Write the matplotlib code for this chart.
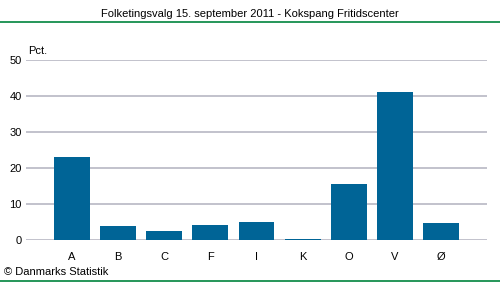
import matplotlib.pyplot as plt

partier = ['A', 'B', 'C', 'F', 'I', 'K', 'O', 'V', 'Ø']
pct = [23.1, 3.9, 2.5, 4.2, 5.0, 0.3, 15.6, 41.1, 4.7]
yticks = [0, 10, 20, 30, 40, 50]

plt.rcParams['font.family'] = ['Liberation Sans', 'DejaVu Sans']

fig = plt.figure(figsize=(5, 2.82), dpi=100)
ax = fig.add_axes([26 / 500, 42 / 282, 461 / 500, 180 / 282])

x = range(len(partier))
ax.bar(x, pct, width=0.78, color='#006496', zorder=3)
ax.set_xlim(-1, 9)
ax.set_ylim(0, 50)
ax.set_yticks(yticks)
ax.set_xticks(list(x))
ax.set_xticklabels(partier)
ax.grid(axis='y', color='#b8b8c4', linewidth=1.2, zorder=0)
ax.tick_params(length=0, labelsize=8, colors='#000000')
ax.tick_params(axis='x', pad=9)
ax.tick_params(axis='y', pad=3)
for s in ax.spines.values():
    s.set_visible(False)

ax.text(0.005, 1.02, 'Pct.', transform=ax.transAxes, fontsize=8, va='bottom')

fig.text(0.5, 1 - 14 / 282, 'Folketingsvalg 15. september 2011 - Kokspang Fritidscenter',
         ha='center', va='center', fontsize=8)
fig.add_artist(plt.Line2D([0, 1], [1 - 22 / 282, 1 - 22 / 282], color='#00843d', linewidth=1.2))
fig.add_artist(plt.Line2D([0, 1], [0.7 / 282, 0.7 / 282], color='#00843d', linewidth=1.2))
fig.text(4 / 500, 1 - 272 / 282, '© Danmarks Statistik', ha='left', va='center', fontsize=8)

fig.savefig('out.png', dpi=100)
